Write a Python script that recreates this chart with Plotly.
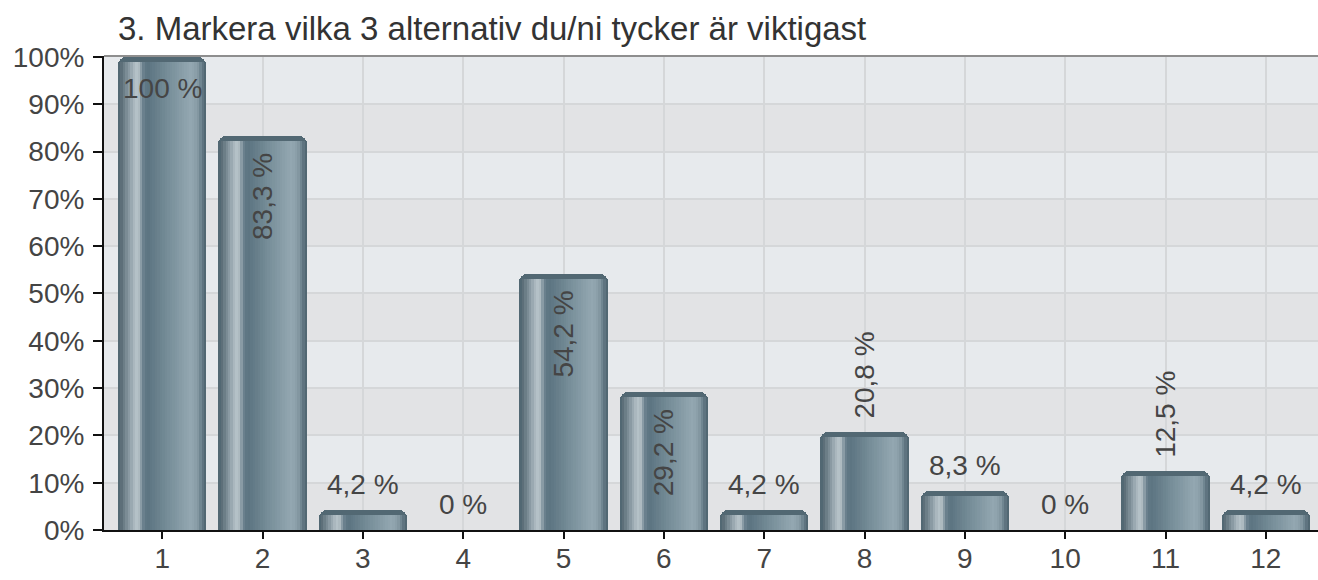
import plotly.graph_objects as go

# ---- data ----
categories = [1, 2, 3, 4, 5, 6, 7, 8, 9, 10, 11, 12]
values = [100, 83.3, 4.2, 0, 54.2, 29.2, 4.2, 20.8, 8.3, 0, 12.5, 4.2]
labels = ["100 %", "83,3 %", "4,2 %", "0 %", "54,2 %", "29,2 %", "4,2 %",
          "20,8 %", "8,3 %", "0 %", "12,5 %", "4,2 %"]
y_ticks = [0, 10, 20, 30, 40, 50, 60, 70, 80, 90, 100]
y_tick_labels = [f"{v}%" for v in y_ticks]
title_text = "3. Markera vilka 3 alternativ du/ni tycker är viktigast"

# ---- style ----
FONT = "Liberation Sans, Arial, sans-serif"
BAR_W = 0.88
CAP = 1.1  # dark rounded cap height, in axis units
stops = [
    (0.00, (0x4a, 0x5a, 0x64)),
    (0.04, (0x5e, 0x70, 0x7a)),
    (0.12, (0x88, 0x99, 0xa2)),
    (0.20, (0xb6, 0xc2, 0xc8)),
    (0.24, (0xac, 0xb9, 0xbf)),
    (0.28, (0x6e, 0x84, 0x90)),
    (0.33, (0x5b, 0x73, 0x80)),
    (0.57, (0x77, 0x8e, 0x99)),
    (0.83, (0x94, 0xa8, 0xb2)),
    (0.90, (0x86, 0x9a, 0xa4)),
    (0.955, (0x62, 0x78, 0x84)),
    (1.00, (0x4a, 0x5d, 0x68)),
]


def color_at(f):
    for (f0, c0), (f1, c1) in zip(stops[:-1], stops[1:]):
        if f0 <= f <= f1:
            t = 0 if f1 == f0 else (f - f0) / (f1 - f0)
            c = [round(a + (b - a) * t) for a, b in zip(c0, c1)]
            return "rgb({},{},{})".format(*c)
    return "rgb(74,93,104)"


fig = go.Figure()

# alternating background bands
for i in range(0, 10, 2):
    fig.add_shape(type="rect", xref="paper", yref="y", x0=0, x1=1,
                  y0=y_ticks[i], y1=y_ticks[i + 1], layer="below",
                  fillcolor="#e2e3e5", line_width=0)

# base bar (dark rim with rounded top)
fig.add_trace(go.Bar(
    x=categories, y=values, width=BAR_W,
    marker=dict(color="#526873", cornerradius=8, line_width=0),
    hoverinfo="skip", showlegend=False,
))

# cylinder shading stripes
N = 34
f_start, f_end = 0.025, 0.975
body = [max(v - CAP, 0) for v in values]
for k in range(N):
    fa = f_start + (f_end - f_start) * k / N
    fb = f_start + (f_end - f_start) * (k + 1) / N
    fm = (fa + fb) / 2
    fig.add_trace(go.Bar(
        x=categories, y=body,
        width=(fb - fa) * BAR_W + 0.002,
        offset=-BAR_W / 2 + fa * BAR_W,
        marker=dict(color=color_at(fm), line_width=0),
        hoverinfo="skip", showlegend=False,
    ))

# value labels
vmax = max(values)
annotations = []
for x, v, t in zip(categories, values, labels):
    base = dict(x=x, y=v, text=t, showarrow=False, xanchor="center",
                font=dict(family=FONT, size=28, color="#454545"))
    if v == vmax:
        base.update(yanchor="top", yshift=-14, textangle=0)
    elif v >= 25:
        base.update(yanchor="top", yshift=-15, textangle=-90)
    elif v >= 10:
        base.update(yanchor="bottom", yshift=11, textangle=-90)
    else:
        base.update(yanchor="bottom", yshift=8, textangle=0)
    annotations.append(base)

fig.update_layout(
    width=1318, height=580,
    margin=dict(l=104, r=0, t=56, b=50),
    paper_bgcolor="white",
    plot_bgcolor="#e7eaed",
    barmode="overlay",
    bargap=0,
    showlegend=False,
    font=dict(family=FONT, size=28, color="#444444"),
    title=dict(text=title_text, x=118 / 1318, xref="container", xanchor="left",
               y=1 - 28 / 580, yref="container", yanchor="middle",
               font=dict(family=FONT, size=33, color="#333333")),
    annotations=annotations,
    shapes=list(fig.layout.shapes) + [
        dict(type="line", xref="paper", yref="paper", x0=0, x1=1, y0=1, y1=1,
             line=dict(color="#8e8e8e", width=2), layer="above"),
    ],
)

fig.update_xaxes(
    range=[0.42, 12.52],
    tickmode="array", tickvals=categories, ticktext=[str(c) for c in categories],
    showgrid=True, gridcolor="#d5d7d9", gridwidth=2,
    showline=True, linecolor="#111111", linewidth=2,
    ticks="outside", ticklen=7, tickwidth=2, tickcolor="#111111",
    tickfont=dict(family=FONT, size=28, color="#444444"),
    ticklabelstandoff=-5,
    zeroline=False, fixedrange=True,
)
fig.update_yaxes(
    range=[0, 100.2],
    tickmode="array", tickvals=y_ticks, ticktext=y_tick_labels,
    showgrid=True, gridcolor="#d5d7d9", gridwidth=2,
    showline=True, linecolor="#111111", linewidth=2,
    ticks="outside", ticklen=9, tickwidth=2, tickcolor="#111111",
    tickfont=dict(family=FONT, size=28, color="#444444"),
    ticklabelstandoff=3,
    zeroline=False, fixedrange=True,
)

fig.write_html(
    "out.html",
    config={"displayModeBar": False},
    post_script="document.body.style.margin='0';document.body.style.overflow='hidden';",
)
